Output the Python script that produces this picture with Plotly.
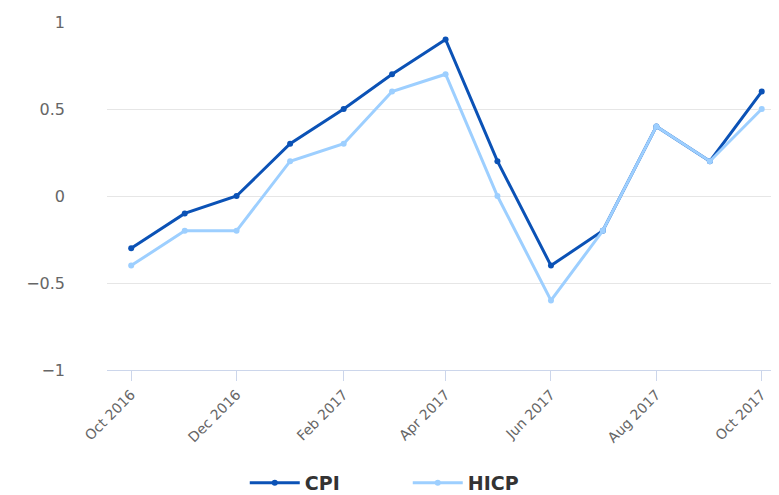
import plotly.graph_objects as go

months = ["2016-10-01", "2016-11-01", "2016-12-01", "2017-01-01", "2017-02-01", "2017-03-01",
          "2017-04-01", "2017-05-01", "2017-06-01", "2017-07-01", "2017-08-01", "2017-09-01",
          "2017-10-01"]
cpi = [-0.3, -0.1, 0.0, 0.3, 0.5, 0.7, 0.9, 0.2, -0.4, -0.2, 0.4, 0.2, 0.6]
hicp = [-0.4, -0.2, -0.2, 0.2, 0.3, 0.6, 0.7, 0.0, -0.6, -0.2, 0.4, 0.2, 0.5]
tick_vals = ["2016-10-01", "2016-12-01", "2017-02-01", "2017-04-01", "2017-06-01",
             "2017-08-01", "2017-10-01"]
tick_text = ["Oct 2016", "Dec 2016", "Feb 2017", "Apr 2017", "Jun 2017", "Aug 2017", "Oct 2017"]
y_ticks = [-1, -0.5, 0, 0.5, 1]

FONT = "DejaVu Sans"

fig = go.Figure()
fig.add_trace(go.Scatter(x=months, y=cpi, name="CPI", mode="lines+markers",
                         line=dict(color="#0b52b6", width=3),
                         marker=dict(size=6, color="#0b52b6")))
fig.add_trace(go.Scatter(x=months, y=hicp, name="HICP", mode="lines+markers",
                         line=dict(color="#9dcfff", width=3),
                         marker=dict(size=6, color="#9dcfff")))

fig.update_layout(
    width=771, height=487,
    margin=dict(l=99, r=0, t=14, b=125),
    paper_bgcolor="white", plot_bgcolor="white",
    font=dict(family=FONT, color="#666666"),
    showlegend=True,
    legend=dict(orientation="h", x=0.205, xanchor="left",
                yref="container", y=0.025, yanchor="middle",
                font=dict(size=19, color="#333333", family=FONT, weight="bold"),
                itemwidth=50, entrywidth=98, entrywidthmode="pixels"),
    xaxis=dict(type="date", range=["2016-09-17", "2017-10-11"], automargin=False,
               tickvals=tick_vals, ticktext=tick_text, tickangle=-45,
               tickfont=dict(size=14, color="#666666"),
               showgrid=False, zeroline=False,
               showline=True, linecolor="#ccd6eb", linewidth=1,
               ticks="outside", ticklen=10, tickcolor="#ccd6eb"),
    yaxis=dict(range=[-1, 1], tickvals=y_ticks, automargin=False,
               tickfont=dict(size=16, color="#666666"),
               gridcolor="#e6e6e6", gridwidth=1, zeroline=False,
               showline=False, ticklabelstandoff=41),
)

fig.write_html("out.html")
